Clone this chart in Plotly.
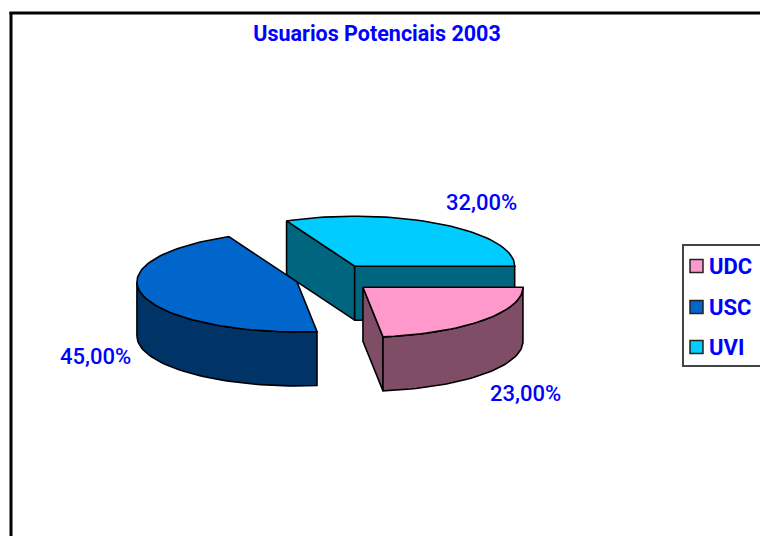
import math
import numpy as np
import plotly.graph_objects as go

# --- data -----------------------------------------------------------
categories = ["UDC", "USC", "UVI"]
shares = [23.0, 45.0, 32.0]
top_colors = ["#FF99CC", "#0066CC", "#00CCFF"]
wall_colors = ["#804D66", "#003366", "#006680"]
title_text = "Usuarios Potenciais 2003"
draw_order = ["UVI", "USC", "UDC"]
label_positions = {"UDC": (525, 393), "USC": (95, 356), "UVI": (481, 202)}
legend_rows = {"UDC": 266, "USC": 307, "UVI": 347}

# --- pie projection --------------------------------------------------
CX, CY = 334.0, 278.0      # pie centre in page pixels
RX, RY = 160.0, 50.0       # tilted ellipse radii
DEPTH = 54.0               # height of the pie
EXPLODE_X, EXPLODE_Y = 38.6, 14.0

BLUE = "#0000FF"
FONT = "Roboto"


def point(apex, deg):
    a = math.radians(deg)
    return apex[0] + RX * math.cos(a), apex[1] - RY * math.sin(a)


def arc(apex, hi, lo):
    n = max(2, int(abs(hi - lo) / 2) + 1)
    pts = [point(apex, d) for d in np.linspace(hi, lo, n)]
    return [p[0] for p in pts], [p[1] for p in pts]


def poly(xs, ys, fill):
    return go.Scatter(
        x=list(xs) + [xs[0]], y=list(ys) + [ys[0]], mode="lines", fill="toself",
        fillcolor=fill, line=dict(color="#000000", width=1.6),
        hoverinfo="skip", showlegend=False,
    )


fig = go.Figure()

# walk clockwise from east, cumulating the shares
total = sum(shares)
spans = {}
cum = 0.0
for name, s in zip(categories, shares):
    hi = -cum / total * 360
    cum += s
    lo = -cum / total * 360
    spans[name] = (hi, lo)

for name in draw_order:
    i = categories.index(name)
    hi, lo = spans[name]
    mid = math.radians((hi + lo) / 2)
    apex = (CX + EXPLODE_X * math.cos(mid), CY - EXPLODE_Y * math.sin(mid))
    wall = wall_colors[i]

    # radial walls that face the viewer
    for deg, normal in ((hi, hi + 90), (lo, lo - 90)):
        if math.sin(math.radians(normal)) < 0:
            px, py = point(apex, deg)
            fig.add_trace(poly(
                [apex[0], px, px, apex[0]],
                [apex[1], py, py + DEPTH, apex[1] + DEPTH], wall))

    # curved outer wall, only the near half of the ellipse
    a_hi, a_lo = min(hi, 0), max(lo, -180)
    if a_hi > a_lo:
        ax, ay = arc(apex, a_hi, a_lo)
        fig.add_trace(poly(ax + ax[::-1],
                           ay + [v + DEPTH for v in ay[::-1]], wall))

    # top face
    ax, ay = arc(apex, hi, lo)
    fig.add_trace(poly([apex[0]] + ax, [apex[1]] + ay, top_colors[i]))

# legend key: swatches and names drawn in the same pixel frame
rows = [legend_rows[c] for c in categories]
fig.add_trace(go.Scatter(
    x=[696.5] * len(categories), y=rows, mode="markers",
    marker=dict(symbol="square", size=13, color=top_colors,
                line=dict(color="#222222", width=1.5)),
    hoverinfo="skip", showlegend=False,
))
for name, row in zip(categories, rows):
    fig.add_annotation(
        x=709, y=row, xref="x", yref="y", xanchor="left", showarrow=False,
        text=f"<b>{name}</b>", borderpad=0, borderwidth=0,
        font=dict(family=FONT, size=22, color=BLUE),
    )

# value labels
for name, s in zip(categories, shares):
    lx, ly = label_positions[name]
    fig.add_annotation(
        x=lx, y=ly, xref="x", yref="y", showarrow=False,
        text=f"{s:.2f}%".replace(".", ","),
        font=dict(family=FONT, size=22, color=BLUE, weight=500),
    )

fig.update_layout(
    width=760, height=536, autosize=False,
    margin=dict(l=0, r=0, t=0, b=0),
    paper_bgcolor="#FFFFFF", plot_bgcolor="#FFFFFF",
    title=dict(text=f"<b>{title_text}</b>", x=377 / 760, xanchor="center",
               y=1 - 33 / 536, yanchor="middle",
               font=dict(family=FONT, size=21.5, color=BLUE)),
    xaxis=dict(range=[0, 760], visible=False, fixedrange=True),
    yaxis=dict(range=[536, 0], visible=False, fixedrange=True),
    showlegend=False,
    shapes=[
        dict(type="line", xref="paper", yref="paper", x0=11 / 760, x1=11 / 760,
             y0=0, y1=1 - 12 / 536, line=dict(color="#000000", width=3)),
        dict(type="line", xref="paper", yref="paper", x0=9.5 / 760, x1=1,
             y0=1 - 13 / 536, y1=1 - 13 / 536, line=dict(color="#000000", width=3)),
        dict(type="rect", xref="x", yref="y", x0=683, x1=761, y0=245, y1=366,
             fillcolor="#FFFFFF", line=dict(color="#444444", width=2), layer="below"),
    ],
)

fig.write_html("out.html", config={"displayModeBar": False},
               post_script="document.body.style.margin='0';")
